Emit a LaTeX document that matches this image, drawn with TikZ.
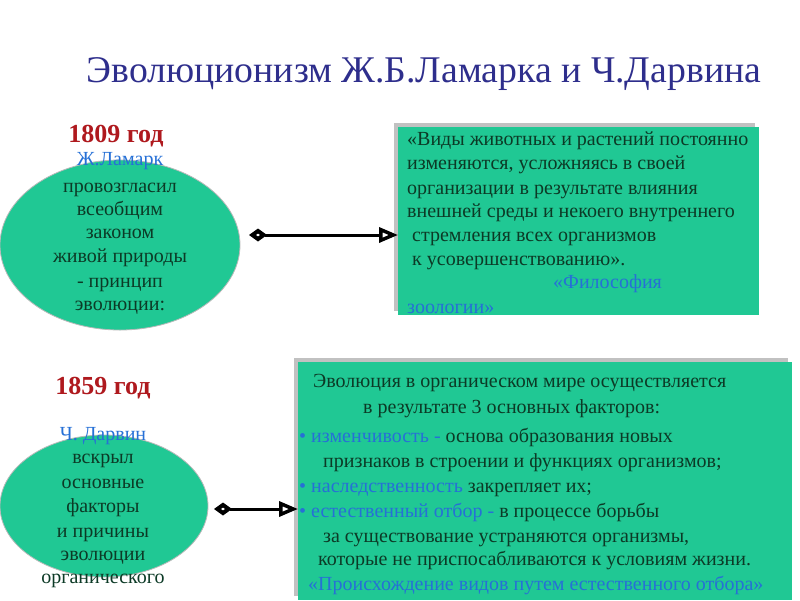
\documentclass[tikz,border=0pt]{standalone}
\usepackage{fontspec}
\setmainfont{Liberation Serif}
\usetikzlibrary{shapes.geometric,arrows.meta,shadows}

\definecolor{leafgreen}{RGB}{32,200,148}
\definecolor{ink}{RGB}{12,58,38}
\definecolor{nameblue}{RGB}{38,112,214}
\definecolor{titleblue}{RGB}{46,46,140}
\definecolor{yearred}{RGB}{175,25,30}

\tikzset{
  oval/.style={ellipse,fill=leafgreen,draw=gray!55,line width=0.8pt,inner sep=0pt},
  quotebox/.style={rectangle,fill=leafgreen,inner sep=0pt,anchor=north west,
    drop shadow={shadow xshift=-4pt,shadow yshift=4pt,fill=gray!70,opacity=0.7}},
  ovaltext/.style={anchor=base,inner sep=0pt,text=ink,font=\fontsize{20}{20}\selectfont},
  boxtext/.style={anchor=base west,inner sep=0pt,text=ink,font=\fontsize{20}{20}\selectfont},
  year/.style={anchor=base,inner sep=0pt,text=yearred,font=\fontsize{26}{26}\selectfont\bfseries},
  link/.style={line width=3pt,
    {Diamond[open,length=18pt,width=13pt,line width=4pt]}-{Triangle[open,length=19pt,width=15pt,line width=3.5pt]}}
}

\begin{document}
\begin{tikzpicture}[x=1pt,y=-1pt]
  \useasboundingbox (0,0) rectangle (800,600);

  % title
  \node[anchor=base,inner sep=0pt,text=titleblue,font=\fontsize{37.7}{38}\selectfont]
    (title) at (424,82) {Эволюционизм Ж.Б.Ламарка и Ч.Дарвина};

  % Lamarck
  \node[year] (year1) at (116,142) {1809 год};
  \node[oval,minimum width=240pt,minimum height=170pt] (lamarck) at (120,245) {};
  \node[ovaltext,text=nameblue] (lamname) at (120,165) {Ж.Ламарк};
  \foreach \y/\t [count=\i] in {192/провозгласил,215/всеобщим,238/законом,
      262/живой природы,287/- принцип,310/эволюции:}
    \node[ovaltext] (lam-\i) at (120,\y) {\t};

  \node[quotebox,minimum width=361pt,minimum height=188pt] (lamquote) at (398,127) {};
  \foreach \x/\y/\t [count=\i] in {407/145/«Виды животных и растений постоянно,
      407/169/{изменяются, усложняясь в своей},
      407/194/организации в результате влияния,
      407/217/внешней среды и некоего внутреннего,
      412/241/стремления всех организмов,
      412/265/к усовершенствованию».}
    \node[boxtext] (lq-\i) at (\x,\y) {\t};
  \node[boxtext,text=nameblue] (lqsrc1) at (553,288) {«Философия};
  \node[boxtext,text=nameblue] (lqsrc2) at (407,313) {зоологии»};

  \coordinate (lamstart) at (249,235);
  \draw[link] (lamstart) -- (lamquote.west |- lamstart);

  % Darwin
  \node[year] (year2) at (103,394) {1859 год};
  \node[oval,minimum width=208pt,minimum height=142pt] (darwin) at (104,506) {};
  \node[ovaltext,text=nameblue] (darname) at (103,440) {Ч. Дарвин};
  \foreach \y/\t [count=\i] in {463/вскрыл,488/основные,512/факторы,
      537/и причины,560/эволюции,583/органического}
    \node[ovaltext] (dar-\i) at (103,\y) {\t};

  \node[quotebox,minimum width=494pt,minimum height=238pt] (darquote) at (298,362) {};
  \foreach \x/\y/\t [count=\i] in {
      313/387/Эволюция в органическом мире осуществляется,
      363/413/в результате 3 основных факторов:,
      299/442/{\textcolor{nameblue}{• изменчивость -} основа образования новых},
      323/467/признаков в строении и функциях организмов;,
      299/492/{\textcolor{nameblue}{• наследственность} закрепляет их;},
      299/517/{\textcolor{nameblue}{• естественный отбор -} в процессе борьбы},
      323/542/{за существование устраняются организмы,},
      318/565/которые не приспосабливаются к условиям жизни.}
    \node[boxtext] (dq-\i) at (\x,\y) {\t};
  \node[boxtext,text=nameblue] (dqsrc) at (308,590) {«Происхождение видов путем естественного отбора»};

  \coordinate (darstart) at (214,509);
  \draw[link] (darstart) -- (darquote.west |- darstart);
\end{tikzpicture}
\end{document}
